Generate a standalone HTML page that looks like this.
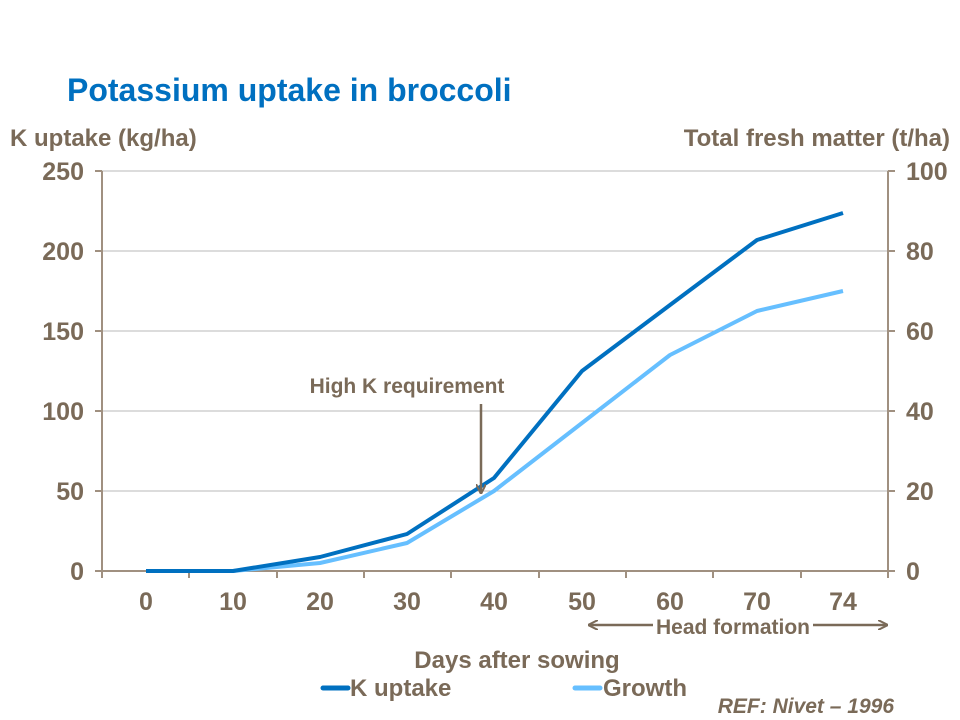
<!DOCTYPE html>
<html><head><meta charset="utf-8"><style>
body{margin:0;background:#fff}
svg{display:block;font-family:"Liberation Sans",Arial,sans-serif;font-weight:bold}
</style></head><body>
<svg width="960" height="720" viewBox="0 0 960 720" xmlns="http://www.w3.org/2000/svg">
<defs>
<marker id="ah" viewBox="0 0 10 10" refX="9" refY="5" markerWidth="4" markerHeight="4" orient="auto-start-reverse"><path d="M0,0 L10,5 L0,10" fill="none" stroke="#7a6a58" stroke-width="2"/></marker>
</defs>
<text x="67" y="101" font-size="32" fill="#0070c0">Potassium uptake in broccoli</text>
<text x="10" y="146" font-size="24" fill="#7a6a58">K uptake (kg/ha)</text>
<text x="950" y="146" font-size="24" fill="#7a6a58" text-anchor="end">Total fresh matter (t/ha)</text>
<g stroke="#b8b8b8" stroke-width="1">
<line x1="102" y1="171" x2="888" y2="171"/><line x1="102" y1="251" x2="888" y2="251"/>
<line x1="102" y1="331" x2="888" y2="331"/><line x1="102" y1="411" x2="888" y2="411"/>
<line x1="102" y1="491" x2="888" y2="491"/>
</g>
<g stroke="#a09080" stroke-width="2">
<line x1="102" y1="171" x2="102" y2="571"/><line x1="888" y1="171" x2="888" y2="571"/>
<line x1="95" y1="571" x2="895" y2="571"/>
<line x1="95" y1="171" x2="102" y2="171"/><line x1="95" y1="251" x2="102" y2="251"/><line x1="95" y1="331" x2="102" y2="331"/><line x1="95" y1="411" x2="102" y2="411"/><line x1="95" y1="491" x2="102" y2="491"/>
<line x1="888" y1="171" x2="895" y2="171"/><line x1="888" y1="251" x2="895" y2="251"/><line x1="888" y1="331" x2="895" y2="331"/><line x1="888" y1="411" x2="895" y2="411"/><line x1="888" y1="491" x2="895" y2="491"/>
<line x1="102" y1="571" x2="102" y2="578"/><line x1="189" y1="571" x2="189" y2="578"/><line x1="277" y1="571" x2="277" y2="578"/><line x1="364" y1="571" x2="364" y2="578"/><line x1="451" y1="571" x2="451" y2="578"/><line x1="539" y1="571" x2="539" y2="578"/><line x1="626" y1="571" x2="626" y2="578"/><line x1="713" y1="571" x2="713" y2="578"/><line x1="801" y1="571" x2="801" y2="578"/><line x1="888" y1="571" x2="888" y2="578"/>
</g>
<g font-size="25" fill="#7a6a58" text-anchor="end">
<text x="84" y="180">250</text><text x="84" y="260">200</text><text x="84" y="340">150</text><text x="84" y="420">100</text><text x="84" y="500">50</text><text x="84" y="580">0</text>
</g>
<g font-size="25" fill="#7a6a58" text-anchor="start">
<text x="906" y="180">100</text><text x="906" y="260">80</text><text x="906" y="340">60</text><text x="906" y="420">40</text><text x="906" y="500">20</text><text x="906" y="580">0</text>
</g>
<g font-size="25" fill="#7a6a58" text-anchor="middle">
<text x="146" y="610">0</text><text x="233" y="610">10</text><text x="320" y="610">20</text><text x="407" y="610">30</text><text x="494" y="610">40</text><text x="582" y="610">50</text><text x="670" y="610">60</text><text x="757" y="610">70</text><text x="843" y="610">74</text>
</g>
<polyline fill="none" stroke="#66bfff" stroke-width="4" stroke-linejoin="round" points="146,571 233,571 320,563 407,543 494,491 582,423 670,355 757,311 843,291"/>
<polyline fill="none" stroke="#0070c0" stroke-width="4" stroke-linejoin="round" points="146,571 233,571 320,557 407,534 494,478 582,371 670,305 757,240 843,213"/>
<text x="407" y="393" font-size="21" fill="#7a6a58" text-anchor="middle">High K requirement</text>
<line x1="481" y1="404" x2="481" y2="493" stroke="#7a6a58" stroke-width="2.5" marker-end="url(#ah)"/>
<line x1="653" y1="625" x2="589" y2="625" stroke="#7a6a58" stroke-width="2.5" marker-end="url(#ah)"/>
<line x1="813" y1="625" x2="887" y2="625" stroke="#7a6a58" stroke-width="2.5" marker-end="url(#ah)"/>
<text x="733" y="634" font-size="21" fill="#7a6a58" text-anchor="middle">Head formation</text>
<text x="517" y="668" font-size="24" fill="#7a6a58" text-anchor="middle">Days after sowing</text>
<line x1="323" y1="688" x2="348" y2="688" stroke="#0070c0" stroke-width="5" stroke-linecap="round"/>
<text x="350" y="696" font-size="24" fill="#7a6a58">K uptake</text>
<line x1="575" y1="688" x2="600" y2="688" stroke="#66bfff" stroke-width="5" stroke-linecap="round"/>
<text x="603" y="696" font-size="24" fill="#7a6a58">Growth</text>
<text x="894" y="713" font-size="21" fill="#7a6a58" font-style="italic" text-anchor="end">REF: Nivet – 1996</text>
</svg>
</body></html>
